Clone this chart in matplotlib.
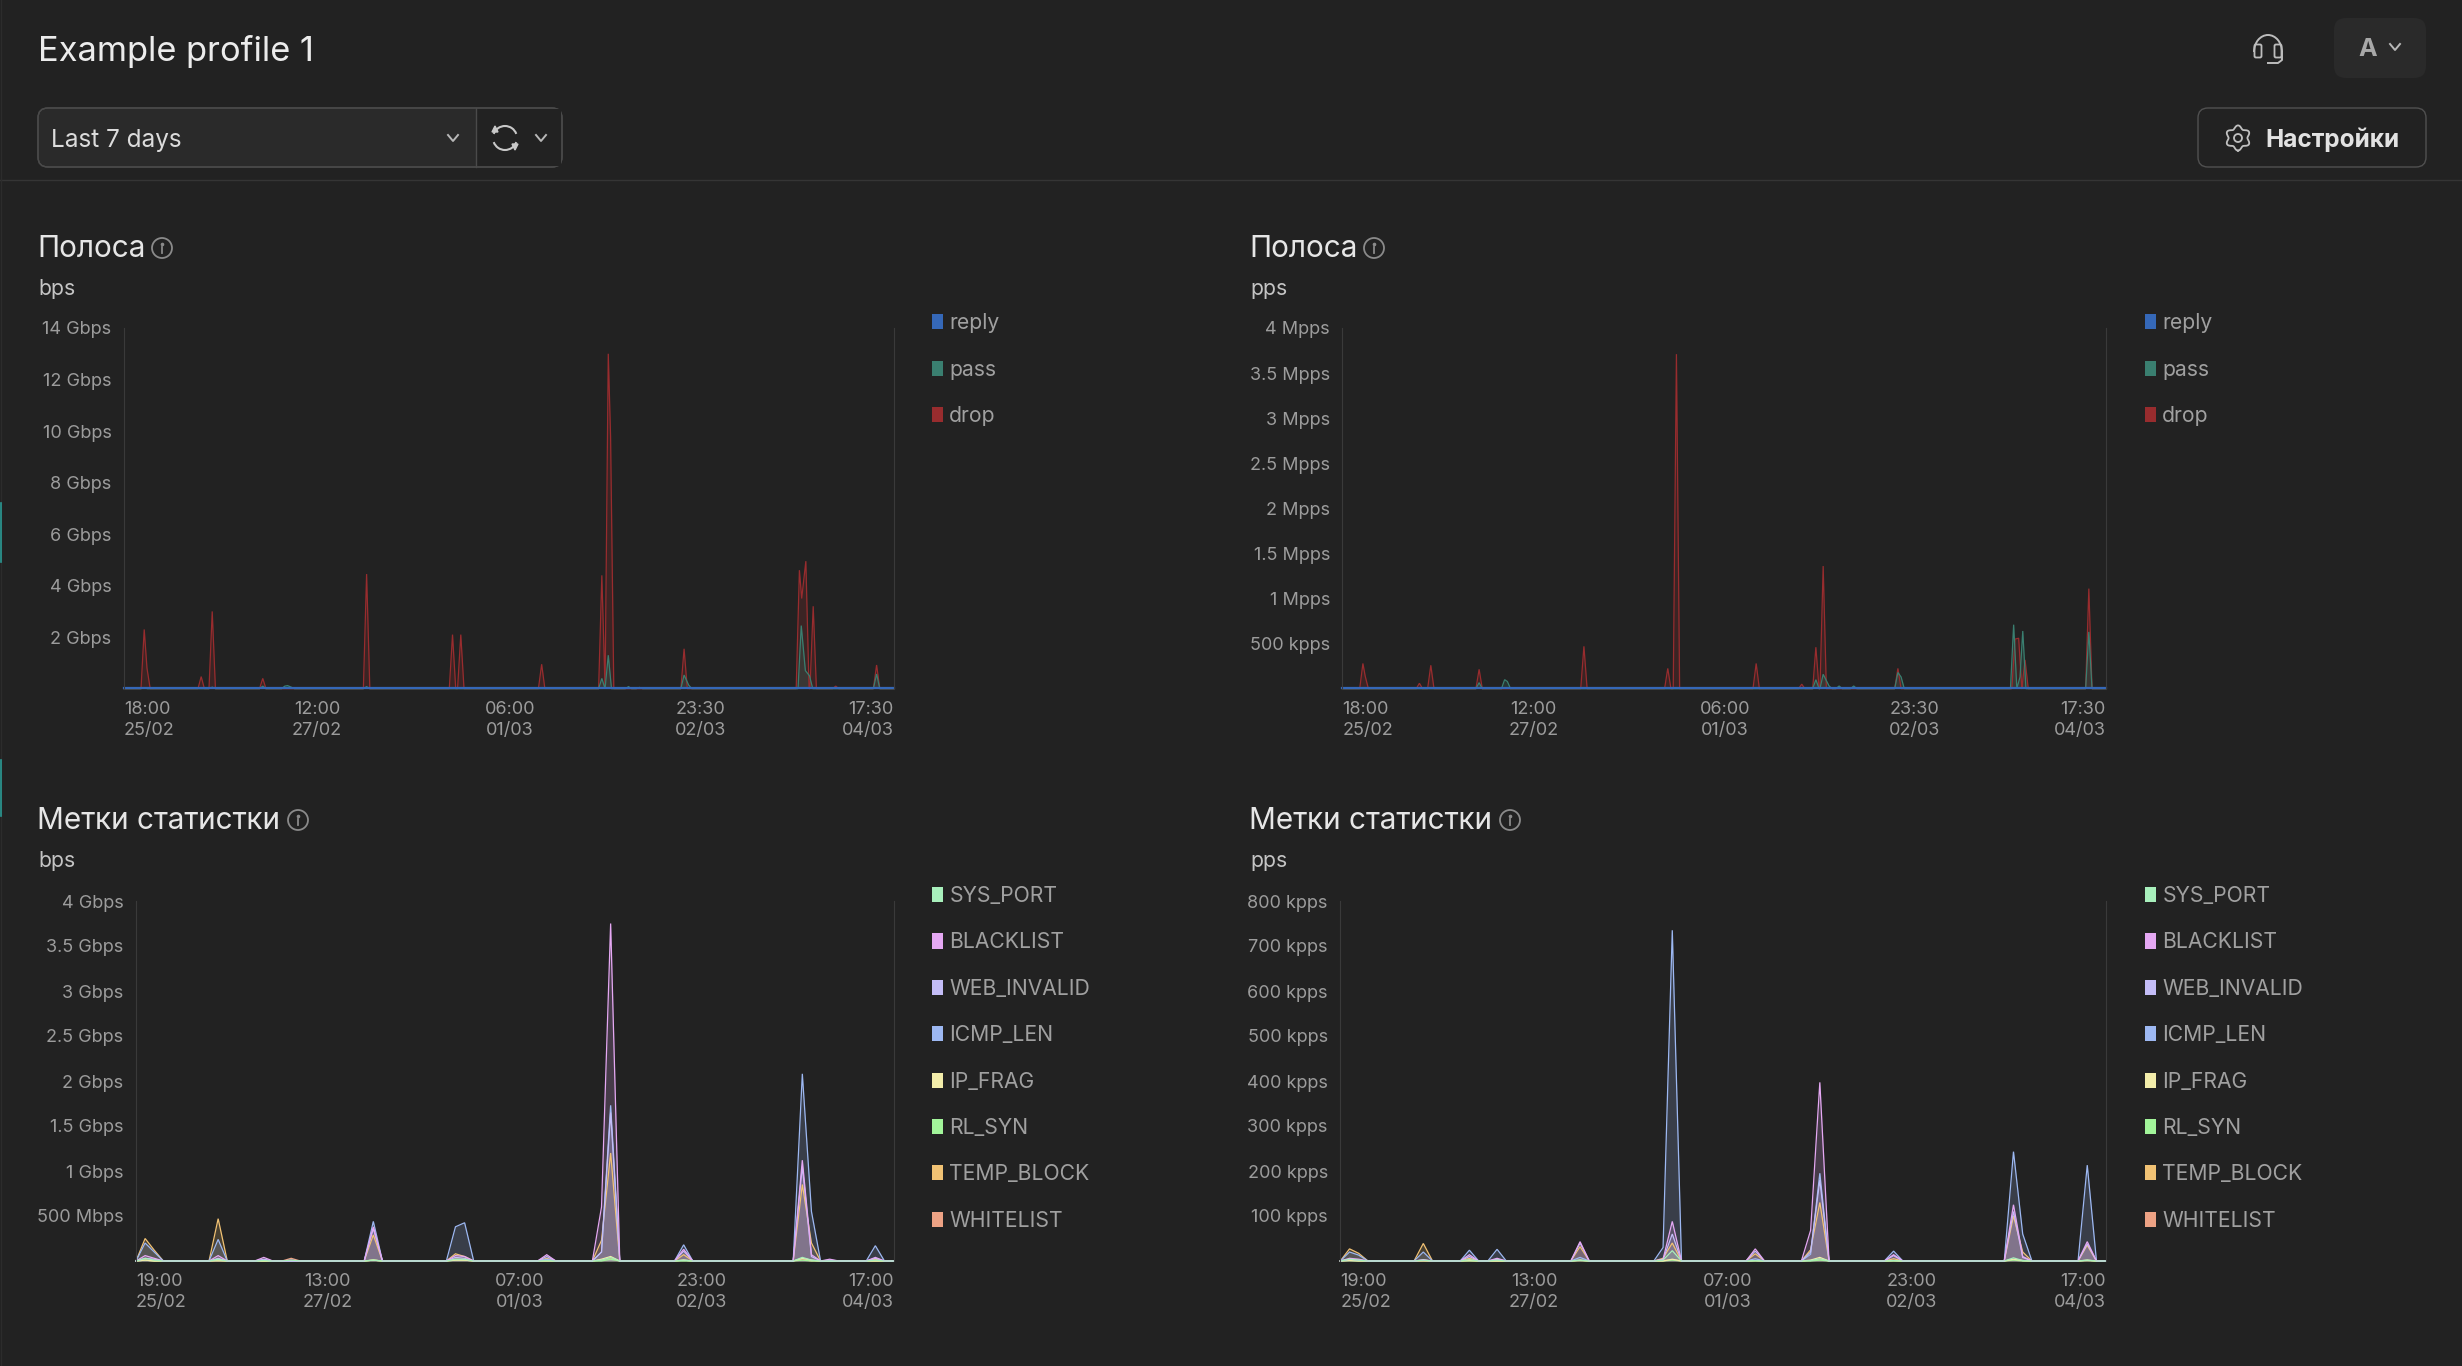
import numpy as np
import matplotlib
matplotlib.use("Agg")
import matplotlib.pyplot as plt
from matplotlib.patches import Circle, FancyBboxPatch, Patch, Arc, Rectangle

W, H = 2462, 1366
BG = "#222222"

plt.rcParams["font.family"] = ["Inter", "Noto Sans", "DejaVu Sans"]

# --- top charts, hours since the first tick label
traffic_legend = ["reply", "pass", "drop"]
traffic_colors = {"reply": "#3568b8", "pass": "#3a7f70", "drop": "#982c2e"}

bps_drop_t = [4.4, 5.0, 16.8, 19.2, 30.2, 52.8, 71.5, 73.3, 90.9, 104.0, 105.4, 105.9,
              121.9, 147.0, 147.5, 148.4, 150.0, 154.9, 163.8]
bps_drop_v = [2.3, 0.8, 0.47, 3.0, 0.4, 4.45, 2.1, 2.1, 0.95, 4.4, 13.0, 9.8,
              1.55, 4.6, 3.5, 4.95, 3.2, 0.1, 0.92]
bps_pass_t = [4.4, 19.2, 30.2, 35.0, 35.6, 36.4, 52.8, 104.0, 105.4, 109.8, 112.2,
              121.9, 122.9, 147.4, 148.3, 149.2, 163.8]
bps_pass_v = [0.04, 0.06, 0.1, 0.1, 0.12, 0.06, 0.08, 0.4, 1.3, 0.08, 0.05,
              0.53, 0.14, 2.45, 0.7, 0.5, 0.57]

pps_drop_t = [4.5, 5.0, 16.9, 19.4, 30.0, 53.0, 71.4, 73.3, 90.8, 100.8, 103.9, 105.5,
              121.9, 147.6, 148.4, 149.8, 163.8]
pps_drop_v = [0.28, 0.14, 0.06, 0.26, 0.215, 0.47, 0.225, 3.71, 0.28, 0.05, 0.46, 1.36,
              0.225, 0.55, 0.56, 0.32, 1.11]
pps_pass_t = [30.0, 35.6, 36.2, 103.9, 105.5, 106.8, 109.0, 112.2,
              121.9, 122.6, 147.3, 148.7, 149.3, 163.8]
pps_pass_v = [0.067, 0.1, 0.08, 0.1, 0.16, 0.03, 0.03, 0.03,
              0.18, 0.13, 0.71, 0.13, 0.64, 0.63]

# --- bottom charts, 2 hour buckets
marks_legend = ["SYS_PORT", "BLACKLIST", "WEB_INVALID", "ICMP_LEN", "IP_FRAG", "RL_SYN",
                "TEMP_BLOCK", "WHITELIST"]
marks_order = ["WHITELIST", "TEMP_BLOCK", "RL_SYN", "IP_FRAG", "ICMP_LEN", "WEB_INVALID",
               "BLACKLIST", "SYS_PORT"]
marks_colors = {"SYS_PORT": "#a8f0bc", "BLACKLIST": "#e5a8f3", "WEB_INVALID": "#c4bdf7",
                "ICMP_LEN": "#9db8f2", "IP_FRAG": "#f3edaa", "RL_SYN": "#a2f59a",
                "TEMP_BLOCK": "#f1c274", "WHITELIST": "#eda284"}
marks_t = [2, 4, 18, 28, 34, 52, 70, 72, 90, 102, 104, 120, 146, 148, 152, 162]

gbps_marks = {
    "TEMP_BLOCK":  [.25, .12, .47, 0, 0, .29, .08, .05, .03, .23, 1.2, .07, .85, .2, 0, .02],
    "ICMP_LEN":    [.2, .1, .24, .01, 0, .44, .38, .425, .02, .1, 1.73, .18, 2.08, .55, .01, .17],
    "BLACKLIST":   [.06, .03, .06, .04, .01, .38, .06, .05, .07, .6, 3.75, .13, 1.12, .07, .02, .04],
    "WEB_INVALID": [.03, .02, .03, .02, 0, .36, .04, .03, .05, .1, 1.65, .11, 1.05, .05, 0, .03],
    "IP_FRAG":     [.01, 0, 0, 0, 0, .01, .01, .01, 0, .02, .05, .01, .03, .01, 0, 0],
    "WHITELIST":   [.01, 0, .01, 0, .03, .01, .02, .01, .01, .01, .03, .01, .02, 0, 0, 0],
    "SYS_PORT":    [.03, .01, .02, .005, .01, .01, .02, .02, .005, .01, .04, .01, .04, .01, 0, .01],
    "RL_SYN":      [.01, 0, .01, 0, 0, .01, .01, .01, 0, 0, .02, 0, .01, 0, 0, 0],
}
kpps_t = [2, 4, 18, 28, 34, 52, 70, 72, 90, 102, 104, 120, 146, 148, 162]
kpps_marks = {
    "TEMP_BLOCK":  [27, 17, 39, 6, 2, 32, 6, 40, 16, 25, 130, 5, 100, 20, 35],
    "ICMP_LEN":    [20, 13, 20, 24, 26, 8, 30, 735, 5, 15, 195, 22, 243, 60, 213],
    "BLACKLIST":   [6, 4, 3, 14, 6, 43, 4, 88, 27, 68, 397, 14, 125, 10, 43],
    "WEB_INVALID": [4, 2, 2, 10, 4, 40, 3, 60, 22, 20, 180, 12, 110, 8, 38],
    "IP_FRAG":     [1, 0, 0, 1, 0, 2, 0, 4, 1, 2, 8, 1, 4, 1, 2],
    "WHITELIST":   [2, 1, 1, 1, 0, 1, 1, 3, 1, 1, 4, 1, 3, 1, 1],
    "SYS_PORT":    [4, 2, 2, 3, 2, 2, 2, 23, 1, 1, 5, 1, 7, 1, 2],
    "RL_SYN":      [1, 0, 1, 0, 0, 1, 0, 2, 0, 0, 2, 0, 2, 0, 1],
}

bps_ticks = [2, 4, 6, 8, 10, 12, 14]
bps_labels = [f"{v} Gbps" for v in bps_ticks]
pps_ticks = [0.5, 1, 1.5, 2, 2.5, 3, 3.5, 4]
pps_labels = ["500 kpps", "1 Mpps", "1.5 Mpps", "2 Mpps", "2.5 Mpps", "3 Mpps", "3.5 Mpps", "4 Mpps"]
gbps_ticks = [0.5, 1, 1.5, 2, 2.5, 3, 3.5, 4]
gbps_labels = ["500 Mbps", "1 Gbps", "1.5 Gbps", "2 Gbps", "2.5 Gbps", "3 Gbps", "3.5 Gbps", "4 Gbps"]
kpps_ticks = [100, 200, 300, 400, 500, 600, 700, 800]
kpps_labels = [f"{v} kpps" for v in kpps_ticks]

top_time_pos = [0, 42, 84, 125.5, 167.5]
top_time_labels = ["18:00\n25/02", "12:00\n27/02", "06:00\n01/03", "23:30\n02/03", "17:30\n04/03"]
bot_time_pos = [0, 42, 84, 124, 166]
bot_time_labels = ["19:00\n25/02", "13:00\n27/02", "07:00\n01/03", "23:00\n02/03", "17:00\n04/03"]


def with_base(t, v, half, tmax):
    # spikes only list their non-zero buckets, the rest of the range sits on zero
    xs, ys = [0.0], [0.0]
    for i, (a, b) in enumerate(zip(t, v)):
        if i == 0 or a - t[i - 1] > 2 * half - 1e-6:
            xs.append(max(a - half, 0.0))
            ys.append(0.0)
        xs.append(a)
        ys.append(b)
        if i == len(t) - 1 or t[i + 1] - a > 2 * half - 1e-6:
            xs.append(a + half)
            ys.append(0.0)
    xs.append(tmax)
    ys.append(0.0)
    return np.array(xs), np.array(ys)


def panel(box, ymax, yticks, ylabels, tmax, tpos, tlabels):
    l, r, t, b = box
    ax = fig.add_axes([l / W, 1 - b / H, (r - l) / W, (b - t) / H])
    ax.set_facecolor("none")
    ax.set_xlim(0, tmax)
    ax.set_ylim(0, ymax)
    for s in ["top", "bottom"]:
        ax.spines[s].set_visible(False)
    for s in ["left", "right"]:
        ax.spines[s].set_color("#3a3a3a")
        ax.spines[s].set_linewidth(0.8)
    ax.set_yticks(yticks, ylabels)
    ax.set_xticks(tpos, tlabels)
    ax.tick_params(length=0, labelsize=13, labelcolor="#9c9c9c")
    ax.tick_params(axis="y", pad=9)
    ax.tick_params(axis="x", pad=9)
    lab = ax.get_xticklabels()
    lab[0].set_ha("left")
    lab[-1].set_ha("right")
    for x in lab:
        x.set_linespacing(1.3)
    return ax


def area(ax, x, y, color, lw=0.9, alpha=0.22):
    ax.fill_between(x, 0, y, color=color, alpha=alpha, lw=0)
    ax.plot(x, y, color=color, lw=lw, clip_on=False, solid_joinstyle="miter")


def add_legend(ax, names, colors, xpx, ypx, step):
    handles = [Patch(facecolor=colors[n], edgecolor="none") for n in names]
    ax.legend(handles, names, loc="upper left", bbox_to_anchor=(xpx / W, 1 - ypx / H),
              bbox_transform=fig.transFigure, frameon=False, borderpad=0, borderaxespad=0,
              fontsize=15.2, labelcolor="#a0a0a0", handlelength=0.5, handleheight=0.72,
              handletextpad=0.32, labelspacing=(step * 0.72 - 14.7) / 15.2)


fig = plt.figure(figsize=(W / 100, H / 100), dpi=100, facecolor=BG)

# page chrome, drawn in pixel coordinates
ui = fig.add_axes([0, 0, 1, 1])
ui.set_xlim(0, W)
ui.set_ylim(H, 0)
ui.axis("off")


def rbox(x0, y0, x1, y1, rad=10, fc="none", ec="#4a4a4a", lw=1.0):
    ui.add_patch(FancyBboxPatch((x0 + rad, y0 + rad), x1 - x0 - 2 * rad, y1 - y0 - 2 * rad,
                                boxstyle=f"round,pad={rad},rounding_size={rad}",
                                fc=fc, ec=ec, lw=lw))


def chevron(x, y, c="#b8b8b8"):
    ui.plot([x - 5, x, x + 5], [y - 3, y + 3, y - 3], color=c, lw=1.4)


def info(x, y):
    ui.add_patch(Circle((x, y), 10, fc="none", ec="#8a8a8a", lw=1.3))
    ui.plot([x, x], [y - 1, y + 5], color="#8a8a8a", lw=1.3)
    ui.plot([x], [y - 4.5], marker="o", ms=1.6, color="#8a8a8a")


ui.plot([0, W], [180, 180], color="#353535", lw=1.0)
ui.plot([1, 1], [0, H], color="#2c2c2c", lw=1.0)
ui.plot([0.5, 0.5], [503, 562], color="#2a9a94", lw=1.2)
ui.plot([0.5, 0.5], [760, 816], color="#2a9a94", lw=1.2)

ui.text(38, 51, "Example profile 1", fontsize=24.8, color="#ececec", va="center")

rbox(38, 108, 562, 167, fc="#2a2a2a", ec="#4a4a4a")
ui.add_patch(Rectangle((476, 109), 85, 57, fc=BG, ec="none", zorder=2))
ui.plot([476, 476], [108, 167], color="#4a4a4a", lw=1.0, zorder=3)
rbox(38, 108, 562, 167, fc="none", ec="#4a4a4a")
ui.text(51, 140, "Last 7 days", fontsize=17.5, color="#dcdcdc", va="center")
chevron(453, 138)
chevron(541, 138)
ui.add_patch(Arc((505, 138), 24, 24, theta1=200, theta2=340, ec="#c8c8c8", lw=1.5, zorder=4))
ui.add_patch(Arc((505, 138), 24, 24, theta1=20, theta2=160, ec="#c8c8c8", lw=1.5, zorder=4))
ui.fill([492, 498, 495], [132, 132, 126], color="#c8c8c8", zorder=4)
ui.fill([512, 518, 515], [144, 144, 150], color="#c8c8c8", zorder=4)

# headset
ui.add_patch(Arc((2268, 52), 28, 34, theta1=180, theta2=360, ec="#bdbdbd", lw=1.4))
ui.add_patch(FancyBboxPatch((2256, 46), 4, 10, boxstyle="round,pad=1.5", fc="none", ec="#bdbdbd", lw=1.3))
ui.add_patch(FancyBboxPatch((2276, 46), 4, 10, boxstyle="round,pad=1.5", fc="none", ec="#bdbdbd", lw=1.3))
ui.plot([2268, 2278, 2282, 2282], [63, 63, 60, 52], color="#bdbdbd", lw=1.4)

rbox(2334, 18, 2426, 78, rad=12, fc="#2a2a2a", ec="none")
ui.text(2368, 49, "A", fontsize=18, weight="bold", color="#a8a8a8", ha="center", va="center")
chevron(2395, 47)

rbox(2198, 108, 2426, 167, fc="none", ec="#505050")
th = np.linspace(0, 2 * np.pi, 200)
rad = 11 + 1.6 * np.cos(6 * th)
ui.plot(2238 + rad * np.sin(th), 138 + rad * np.cos(th), color="#c0c0c0", lw=1.3)
ui.add_patch(Circle((2238, 138), 4, fc="none", ec="#c0c0c0", lw=1.3))
ui.text(2265, 140, "Настройки", fontsize=17.6, weight="bold", color="#e2e2e2", va="center")

for x, y, txt, unit, ix in [(37, 249, "Полоса", "bps", 162), (1249, 249, "Полоса", "pps", 1374),
                            (37, 821, "Метки статистки", "bps", 298),
                            (1249, 821, "Метки статистки", "pps", 1510)]:
    ui.text(x, y, txt, fontsize=21.4, color="#e6e6e6", va="center")
    ui.text(x + 1, y + 40, unit, fontsize=15.3, color="#c4c4c4", va="center")
    info(ix, y - 1)

# top left
ax = panel((124, 893.6, 328, 688.7), 14, bps_ticks, bps_labels, 167.5, top_time_pos, top_time_labels)
area(ax, *with_base(bps_drop_t, bps_drop_v, 0.7, 167.5), traffic_colors["drop"])
area(ax, *with_base(bps_pass_t, bps_pass_v, 0.7, 167.5), traffic_colors["pass"])
ax.plot([0, 167.5], [0.02, 0.02], color=traffic_colors["reply"], lw=1.6, clip_on=False)
add_legend(ax, traffic_legend, traffic_colors, 932, 313, 47.0)

# top right
ax = panel((1342.4, 2105.7, 328, 688.7), 4, pps_ticks, pps_labels, 167.5, top_time_pos, top_time_labels)
area(ax, *with_base(pps_drop_t, pps_drop_v, 0.7, 167.5), traffic_colors["drop"])
area(ax, *with_base(pps_pass_t, pps_pass_v, 0.7, 167.5), traffic_colors["pass"])
ax.plot([0, 167.5], [0.006, 0.006], color=traffic_colors["reply"], lw=1.6, clip_on=False)
add_legend(ax, traffic_legend, traffic_colors, 2145, 313, 47.0)

# bottom left
ax = panel((136, 893.6, 901, 1261), 4, gbps_ticks, gbps_labels, 166, bot_time_pos, bot_time_labels)
for name in marks_order:
    area(ax, *with_base(marks_t, gbps_marks[name], 2, 166), marks_colors[name], alpha=0.19)
add_legend(ax, marks_legend, marks_colors, 932, 886, 46.8)

# bottom right
ax = panel((1340.3, 2105.7, 901, 1261), 800, kpps_ticks, kpps_labels, 166, bot_time_pos, bot_time_labels)
for name in marks_order:
    area(ax, *with_base(kpps_t, kpps_marks[name], 2, 166), marks_colors[name], alpha=0.19)
add_legend(ax, marks_legend, marks_colors, 2145, 886, 46.8)

fig.savefig("out.png", dpi=100, facecolor=BG)
